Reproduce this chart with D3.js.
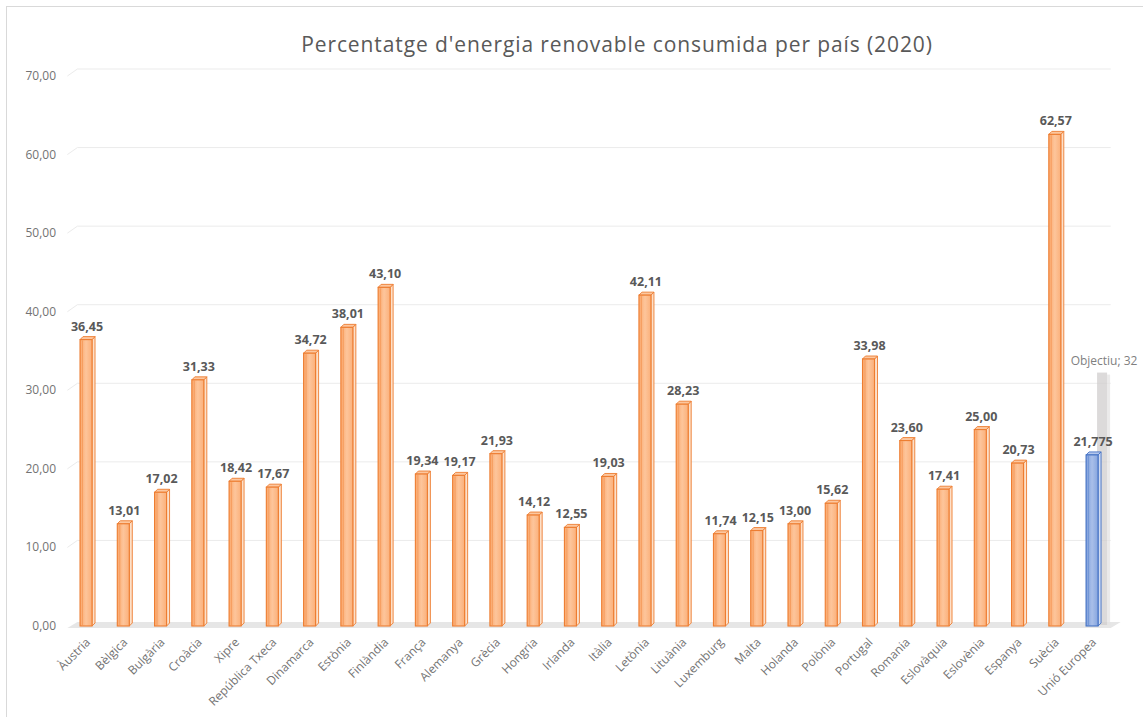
<!DOCTYPE html>
<html>
<head>
<meta charset="utf-8">
<script src="https://cdn.jsdelivr.net/npm/d3@7.9.0/dist/d3.min.js"></script>
<style>
  body { margin: 0; background: #fff; }
  text { font-family: "Open Sans", "Noto Sans", sans-serif; }
</style>
</head>
<body>
<svg id="chart" width="1143" height="717"></svg>
<script>
const countries = ["Àustria", "Bèlgica", "Bulgària", "Croàcia", "Xipre", "República Txeca",
  "Dinamarca", "Estònia", "Finlàndia", "França", "Alemanya", "Grècia", "Hongria", "Irlanda",
  "Itàlia", "Letònia", "Lituània", "Luxemburg", "Malta", "Holanda", "Polònia", "Portugal",
  "Romania", "Eslovàquia", "Eslovènia", "Espanya", "Suècia"];
const values = [36.45, 13.01, 17.02, 31.33, 18.42, 17.67, 34.72, 38.01, 43.10, 19.34, 19.17,
  21.93, 14.12, 12.55, 19.03, 42.11, 28.23, 11.74, 12.15, 13.00, 15.62, 33.98, 23.60, 17.41,
  25.00, 20.73, 62.57];
const euLabel = "Unió Europea";
const euValue = 21.775;
const target = 32;
const yTicks = [0, 10, 20, 30, 40, 50, 60, 70];

const categories = [...countries, euLabel];
const allValues = [...values, euValue];

const svg = d3.select("#chart");
const loc = d3.formatLocale({decimal: ",", thousands: ".", grouping: [3], currency: ["", "€"]});
const f2 = loc.format(".2f");
const f3 = loc.format(".3f");

const x = d3.scaleBand().domain(categories).range([67.4, 1110.7]);
const y = d3.scaleLinear().domain([0, 70]).range([626, 76]);
const DX = 10, DY = -7;   // back wall offset
const BW = 12, SD = 3;    // bar front width, side depth

const defs = svg.append("defs");
function grad(id, c0, c1, c2) {
  const g = defs.append("linearGradient").attr("id", id).attr("x1", 0).attr("x2", 1);
  g.append("stop").attr("offset", 0).attr("stop-color", c0);
  g.append("stop").attr("offset", 0.5).attr("stop-color", c1);
  g.append("stop").attr("offset", 1).attr("stop-color", c2);
}
grad("gOrange", "#fba86c", "#fdc59b", "#fbb07a");
grad("gBlue", "#7e9fdc", "#a9bfe9", "#86a5de");

// chart border
svg.append("rect").attr("x", 6.5).attr("y", 6.5).attr("width", 1200).attr("height", 800)
  .attr("fill", "none").attr("stroke", "#d9d9d9");

// title
svg.append("text").attr("x", 617).attr("y", 52).attr("text-anchor", "middle")
  .attr("font-size", 21).attr("fill", "#595959").attr("letter-spacing", 0.9)
  .text("Percentatge d'energia renovable consumida per país (2020)");

// floor
const x0 = x.range()[0], x1 = x.range()[1];
svg.append("path")
  .attr("d", `M${x0},${y(0) + 2}L${x0 + DX},${y(0) + 2 + DY + 1}L${x1 + DX},${y(0) + 2 + DY + 1}L${x1},${y(0) + 2}Z`)
  .attr("fill", "#e6e6e6");

// gridlines on back wall
svg.append("g").selectAll("path").data(yTicks.slice(1)).join("path")
  .attr("d", d => `M${x0},${y(d)}L${x0 + DX},${y(d) + DY}L${x1},${y(d) + DY}`)
  .attr("fill", "none").attr("stroke", "#ebebeb").attr("stroke-width", 1);

// y tick labels
svg.append("g").selectAll("text").data(yTicks).join("text")
  .attr("x", 56).attr("y", d => y(d) + 4).attr("text-anchor", "end")
  .attr("font-size", 12).attr("fill", "#737373").text(d => f2(d));

// target bar (behind EU)
const cEU = x(euLabel) + x.bandwidth() / 2;
svg.append("rect")
  .attr("x", cEU + 5).attr("y", y(target) - 2)
  .attr("width", 10).attr("height", y(0) - y(target) + 1)
  .attr("fill", "#d0cece").attr("opacity", 0.75);
svg.append("rect")
  .attr("x", cEU + 15).attr("y", y(target))
  .attr("width", 3).attr("height", y(0) - y(target) - 1)
  .attr("fill", "#e4e3e3").attr("opacity", 0.75);
svg.append("text").attr("x", cEU + 12).attr("y", y(target) - 10).attr("text-anchor", "middle")
  .attr("font-size", 12).attr("fill", "#7f7f7f").text(`Objectiu; ${target}`);

// bars
const bars = svg.append("g").selectAll("g").data(categories).join("g")
  .attr("transform", d => `translate(${x(d) + x.bandwidth() / 2 - BW / 2},0)`);

function col(i) { return i === categories.length - 1 ? "blue" : "orange"; }
const strokeCol = {orange: "#ed7d31", blue: "#4472c4"};
const sideCol = {orange: "#fde0c9", blue: "#cfdbf2"};
const topCol = {orange: "#fcc79f", blue: "#b4c7ec"};

bars.each(function(d, i) {
  const g = d3.select(this);
  const v = allValues[i], c = col(i);
  const yt = y(v), yb = y(0);
  // side face
  g.append("path")
    .attr("d", `M${BW},${yt}L${BW + SD},${yt - SD}L${BW + SD},${yb - SD}L${BW},${yb}Z`)
    .attr("fill", sideCol[c]).attr("stroke", strokeCol[c]).attr("stroke-width", 0.9);
  // top face
  g.append("path")
    .attr("d", `M0,${yt}L${SD},${yt - SD}L${BW + SD},${yt - SD}L${BW},${yt}Z`)
    .attr("fill", topCol[c]).attr("stroke", strokeCol[c]).attr("stroke-width", 0.9);
  // front face
  g.append("rect").attr("x", 0).attr("y", yt).attr("width", BW).attr("height", yb - yt)
    .attr("fill", c === "blue" ? "url(#gBlue)" : "url(#gOrange)")
    .attr("stroke", strokeCol[c]).attr("stroke-width", 1.1);
  g.append("line").attr("x1", 2.5).attr("x2", 2.5).attr("y1", yt + 1).attr("y2", yb - 1)
    .attr("stroke", strokeCol[c]).attr("stroke-opacity", 0.5).attr("stroke-width", 0.8);
  // value label
  g.append("text").attr("x", BW / 2 + 1).attr("y", yt - 9).attr("text-anchor", "middle")
    .attr("font-size", 12.5).attr("font-weight", "bold").attr("fill", "#595959")
    .text(i === categories.length - 1 ? f3(v) : f2(v));
});

// x labels
svg.append("g").selectAll("text").data(categories).join("text")
  .attr("transform", d => `translate(${x(d) + x.bandwidth() / 2 + 5},${643}) rotate(-45)`)
  .attr("text-anchor", "end")
  .attr("font-size", 12).attr("fill", "#737373").text(d => d);
</script>
</body>
</html>
